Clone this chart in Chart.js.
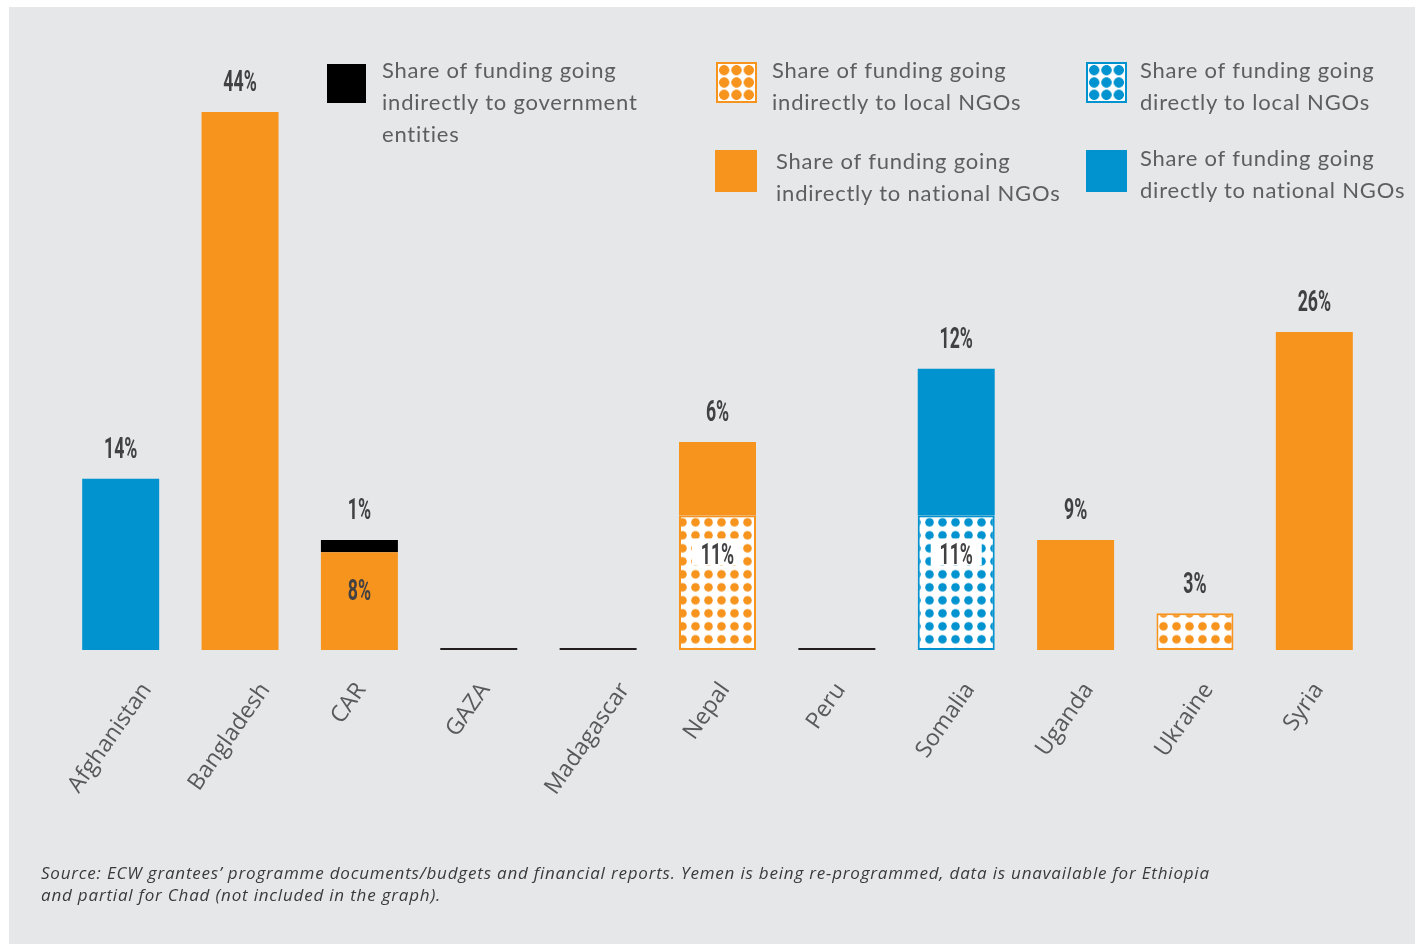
<!DOCTYPE html>
<html><head><meta charset="utf-8">
<script src="https://cdn.jsdelivr.net/npm/chart.js@4.4.1/dist/chart.umd.min.js"></script>
<style>
html,body{margin:0;padding:0;background:#fff;width:1423px;height:944px;overflow:hidden;}
#bg{position:absolute;left:9px;top:7px;width:1406px;height:937px;background:#e6e7e8;}
#c{position:absolute;left:0;top:0;}
.lg{position:absolute;font-family:Lato,'Open Sans',sans-serif;font-size:22px;line-height:32px;color:#5d5e60;letter-spacing:0.8px;white-space:nowrap;}
.sw{position:absolute;box-sizing:border-box;}
.dots-o{background-color:#fff;border:2px solid #f7941e;background-image:radial-gradient(circle,#f7941e 4.8px,transparent 5.4px);background-size:12.33px 12.33px;}
.dots-b{background-color:#fff;border:2px solid #0093d0;background-image:radial-gradient(circle,#0093d0 4.8px,transparent 5.4px);background-size:12.33px 12.33px;}
#src{position:absolute;left:41px;top:862px;font-family:'Open Sans',sans-serif;font-style:italic;font-size:17px;line-height:22px;color:#3a3a3c;white-space:nowrap;letter-spacing:0.8px;}
</style>
</head><body>
<div id="bg"></div>
<canvas id="c" width="1423" height="944"></canvas>
<div class="sw" style="left:327px;top:64px;width:39px;height:39px;background:#000;"></div>
<div class="lg" id="l0" style="left:382px;top:54px;"></div>
<div class="sw dots-o" style="left:716px;top:62px;width:41px;height:41px;"></div>
<div class="lg" id="l1" style="left:772px;top:54px;"></div>
<div class="sw" style="left:715px;top:150px;width:42px;height:42px;background:#f7941e;"></div>
<div class="lg" id="l2" style="left:776px;top:145px;"></div>
<div class="sw dots-b" style="left:1086px;top:62px;width:41px;height:41px;"></div>
<div class="lg" id="l3" style="left:1140px;top:54px;"></div>
<div class="sw" style="left:1086px;top:150px;width:41px;height:42px;background:#0093d0;"></div>
<div class="lg" id="l4" style="left:1140px;top:142px;"></div>
<div id="src"></div>
<script>
const categories = ['Afghanistan','Bangladesh','CAR','GAZA','Madagascar','Nepal','Peru','Somalia','Uganda','Ukraine','Syria'];
const indirectLocal      = [null,null,null,null,null,11,null,null,null,3,null];
const directLocal        = [null,null,null,null,null,null,null,11,null,null,null];
const indirectNational   = [null,44,8,null,null,6,null,null,9,null,26];
const directNational     = [14,null,null,null,null,null,null,12,null,null,null];
const indirectGovernment = [null,null,1,null,null,null,null,null,null,null,null];
const noData             = [null,null,null,0,0,null,0,null,null,null,null];
const legendLabels = [
  ['Share of funding going','indirectly to government','entities'],
  ['Share of funding going','indirectly to local NGOs'],
  ['Share of funding going','indirectly to national NGOs'],
  ['Share of funding going','directly to local NGOs'],
  ['Share of funding going','directly to national NGOs']
];
const sourceLines = [
  'Source: ECW grantees\u2019 programme documents/budgets and financial reports. Yemen is being re-programmed, data is unavailable for Ethiopia',
  'and partial for Chad (not included in the graph).'
];

legendLabels.forEach((l,i)=>{document.getElementById('l'+i).innerHTML=l.join('<br>');});
document.getElementById('src').innerHTML=sourceLines.join('<br>');

const ORANGE='#f7941e', BLUE='#0093d0';
const mainCtx=document.getElementById('c').getContext('2d');
function makeDots(color){
  const c=document.createElement('canvas'); c.width=13; c.height=13;
  const g=c.getContext('2d'); g.fillStyle='#fff'; g.fillRect(0,0,13,13);
  g.fillStyle=color; g.beginPath(); g.arc(6.5,6.5,4.3,0,Math.PI*2); g.fill();
  const p=mainCtx.createPattern(c,'repeat');
  try{p.setTransform(new DOMMatrix().translate(0,-4.2));}catch(e){}
  return p;
}
const common={barPercentage:0.645,categoryPercentage:1};
const datasets=[
  {label:legendLabels[1].join(' '),data:indirectLocal,backgroundColor:makeDots(ORANGE),borderColor:ORANGE,borderWidth:2,borderSkipped:false,patterned:true,...common},
  {label:legendLabels[3].join(' '),data:directLocal,backgroundColor:makeDots(BLUE),borderColor:BLUE,borderWidth:2,borderSkipped:false,patterned:true,...common},
  {label:legendLabels[2].join(' '),data:indirectNational,backgroundColor:ORANGE,borderWidth:0,...common},
  {label:legendLabels[4].join(' '),data:directNational,backgroundColor:BLUE,borderWidth:0,...common},
  {label:legendLabels[0].join(' '),data:indirectGovernment,backgroundColor:'#000',borderWidth:0,...common},
  {label:'no data',data:noData,backgroundColor:'#231f20',borderWidth:0,minBarLength:2,noLabel:true,...common}
];

function drawLabel(ctx,txt,x,y,box){
  ctx.save();
  if(box){ctx.fillStyle='#fff'; ctx.fillRect(x-25.5,y-15,51,27);}
  ctx.font='bold 29px Roboto';
  ctx.translate(x,y+10.3); ctx.scale(0.61,1);
  ctx.fillStyle='#414042'; ctx.textAlign='center'; ctx.textBaseline='alphabetic';
  ctx.fillText(txt,0,0);
  ctx.restore();
}
const valueLabels={
  id:'valueLabels',
  afterDatasetsDraw(chart){
    const ctx=chart.ctx;
    categories.forEach((cat,i)=>{
      const segs=[];
      chart.data.datasets.forEach((ds,di)=>{
        if(ds.noLabel) return;
        const v=ds.data[i]; if(v==null||v===0) return;
        segs.push({v,el:chart.getDatasetMeta(di).data[i],pattern:ds.patterned});
      });
      segs.forEach((s,k)=>{
        const txt=s.v+'%';
        if(k===segs.length-1) drawLabel(ctx,txt,s.el.x,s.el.y-31,false);
        else drawLabel(ctx,txt,s.el.x,s.el.y+38,s.pattern);
      });
    });
  }
};
// rotated category labels, placed from the x scale's tick pixels
const categoryLabels={
  id:'categoryLabels',
  afterDraw(chart){
    const ctx=chart.ctx, xs=chart.scales.x, a=55*Math.PI/180;
    ctx.save();
    ctx.font='23px "Open Sans"';
    ctx.fillStyle='#58595b';
    categories.forEach((cat,i)=>{
      const w=ctx.measureText(cat).width;
      const px=xs.getPixelForTick(i)+Math.cos(a)*w/2-20;
      const py=chart.chartArea.bottom+29;
      ctx.save();
      ctx.translate(px,py); ctx.rotate(-a);
      ctx.textAlign='right'; ctx.textBaseline='top';
      ctx.fillText(cat,0,0);
      ctx.restore();
    });
    ctx.restore();
  }
};

new Chart(mainCtx,{
  type:'bar',
  data:{labels:categories,datasets},
  options:{
    responsive:false,animation:false,devicePixelRatio:1,
    layout:{padding:{left:61,right:49,top:38.5,bottom:94}},
    plugins:{legend:{display:false},tooltip:{enabled:false}},
    scales:{
      x:{stacked:true,grid:{display:false,drawTicks:false},border:{display:false},
         ticks:{display:false},
         afterFit(s){s.height=200;}},
      y:{stacked:true,display:false,min:0,max:50}
    }
  },
  plugins:[valueLabels,categoryLabels]
});
</script>
</body></html>
